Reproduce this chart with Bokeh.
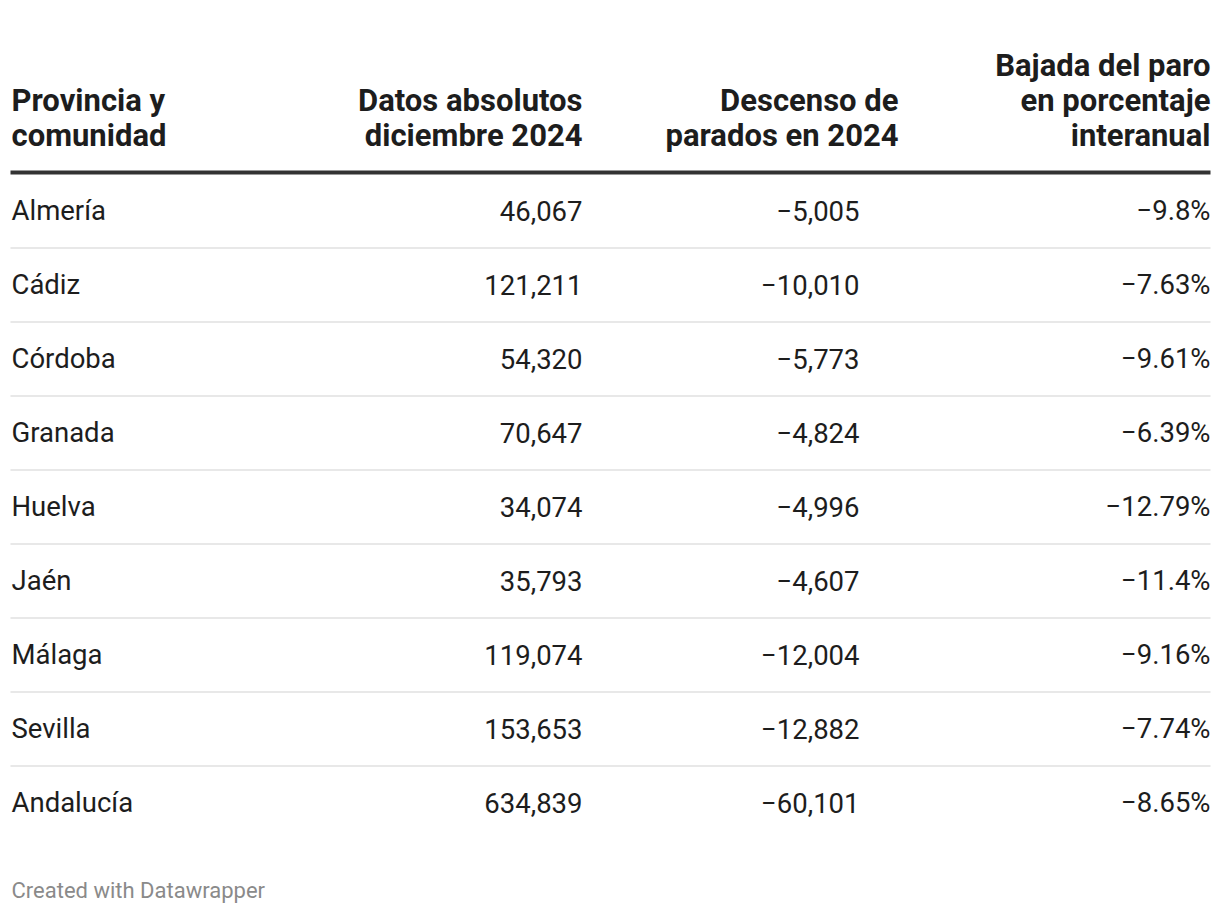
from bokeh.plotting import figure
from bokeh.models import Range1d, ColumnDataSource
from bokeh.core.properties import value
from bokeh.embed import file_html
from bokeh.resources import INLINE

provinces = ["Almería", "Cádiz", "Córdoba", "Granada", "Huelva", "Jaén", "Málaga", "Sevilla", "Andalucía"]
absolutos = [46067, 121211, 54320, 70647, 34074, 35793, 119074, 153653, 634839]
descenso = [-5005, -10010, -5773, -4824, -4996, -4607, -12004, -12882, -60101]
porcentaje = [-9.8, -7.63, -9.61, -6.39, -12.79, -11.4, -9.16, -7.74, -8.65]

headers = [
    ["Provincia y", "comunidad"],
    ["Datos absolutos", "diciembre 2024"],
    ["Descenso de", "parados en 2024"],
    ["Bajada del paro", "en porcentaje", "interanual"],
]
footer = "Created with Datawrapper"

MINUS = "\u2212"


def fmt_int(v):
    s = f"{abs(v):,}"
    return (MINUS + s) if v < 0 else s


def fmt_pct(v):
    s = f"{abs(v):g}%"
    return (MINUS + s) if v < 0 else s


W, H = 1212, 906
p = figure(width=W, height=H, x_range=Range1d(0, W), y_range=Range1d(H, 0),
           output_backend="svg", toolbar_location=None, min_border=0)
p.axis.visible = False
p.grid.visible = False
p.outline_line_color = None
p.background_fill_color = "white"
p.border_fill_color = "white"

FONT = value("Roboto")
TXT = "#1d1d1d"

# column anchors
col_x = [11, 582, 859, 1210]
head_x = [11, 582, 898, 1210]
aligns = ["left", "right", "right", "right"]

row0, step = 210, 74
n = len(provinces)
ys = [row0 + step * i for i in range(n)]

# body text
cols = [provinces, [fmt_int(v) for v in absolutos], [fmt_int(v) for v in descenso], [fmt_pct(v) for v in porcentaje]]
for c, vals in enumerate(cols):
    src = ColumnDataSource(dict(x=[col_x[c]] * n, y=ys, t=vals))
    p.text(x="x", y="y", text="t", source=src, text_font=FONT, text_font_size="27.5px",
           text_color=TXT, text_align=aligns[c], text_baseline="middle")

# header text (bottom-aligned lines)
line_h = 35
bottom_y = 135
for c, lines in enumerate(headers):
    k = len(lines)
    hy = [bottom_y - line_h * (k - 1 - j) for j in range(k)]
    src = ColumnDataSource(dict(x=[head_x[c]] * k, y=hy, t=lines))
    p.text(x="x", y="y", text="t", source=src, text_font=FONT, text_font_size="31px",
           text_font_style="bold", text_color=TXT, text_align=aligns[c], text_baseline="middle")

# header rule
p.segment(x0=[10], x1=[1210], y0=[172], y1=[172], line_color="#333333", line_width=4)

# row separators
sep_y = [ys[i] + step / 2 + 0.5 for i in range(n - 1)]
p.segment(x0=[10] * len(sep_y), x1=[1210] * len(sep_y), y0=sep_y, y1=sep_y,
          line_color="#e8e8e8", line_width=2)

# footer
p.text(x=[11], y=[890], text=[footer], text_font=FONT, text_font_size="22px",
       text_color="#8a8a8a", text_align="left", text_baseline="middle")

open("out.html", "w").write(file_html(p, INLINE))
